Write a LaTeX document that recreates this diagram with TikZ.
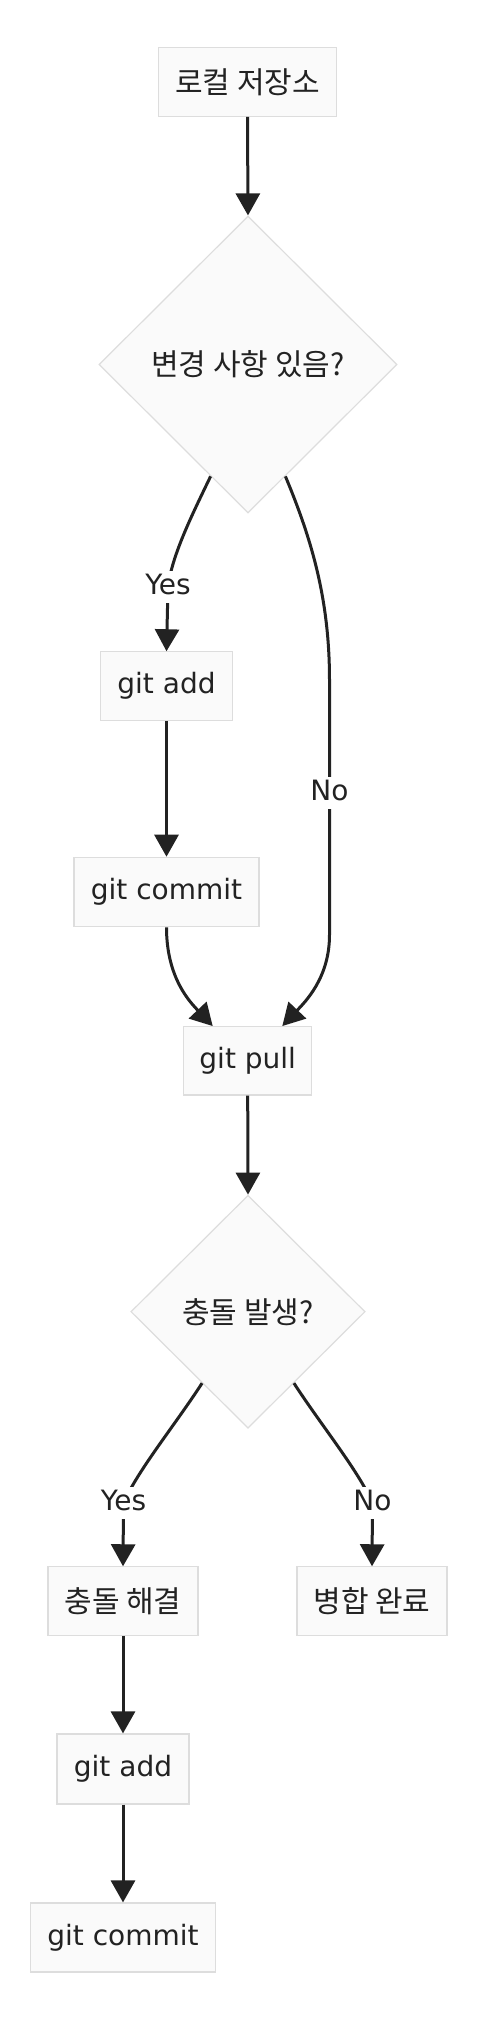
\documentclass[tikz,border=0pt]{standalone}
\usepackage{fontspec}
\setmainfont{DejaVu Sans}
\newfontfamily\kr{Noto Sans CJK KR}
\usetikzlibrary{shapes.geometric,arrows.meta,calc}
\definecolor{nodefill}{HTML}{FAFAFA}
\definecolor{nodeline}{HTML}{DDDDDD}
\definecolor{ink}{HTML}{222222}
\newcommand{\krt}{\kr\fontsize{30}{36}\selectfont}
\begin{document}
\begin{tikzpicture}[x=1pt,y=-1pt,
  box/.style={draw=nodeline, fill=nodefill, line width=1.2pt, inner sep=0pt, text=ink, font=\fontsize{28}{34}\selectfont},
  dec/.style={box, diamond},
  conn/.style={draw=ink, line width=3pt, -{Triangle[length=22pt,width=24pt]}},
  lbl/.style={fill=white, inner sep=3pt, text height=20pt, text depth=6pt, text=ink, font=\fontsize{28}{34}\selectfont}]
\useasboundingbox[fill=white] (0,0) rectangle (496,2030);

% nodes
\node[box, minimum width=177.6pt, minimum height=68.6pt] (local) at (247.5,82) {\krt 로컬 저장소};
\node[dec, minimum width=298pt, minimum height=297pt] (d1) at (248,364.5) {\krt 변경 사항 있음?};
\node[box, minimum width=131.6pt, minimum height=68.3pt] (ga1) at (166.5,686) {git add};
\node[box, minimum width=185pt, minimum height=69.4pt] (gc1) at (166.5,892) {git commit};
\node[box, minimum width=128pt, minimum height=68.3pt] (gp) at (247.7,1060.8) {git pull};
\node[dec, minimum width=234.3pt, minimum height=233pt] (d2) at (248,1311.7) {\krt 충돌 발생?};
\node[box, minimum width=150pt, minimum height=68.3pt] (cr) at (123,1601) {\krt 충돌 해결};
\node[box, minimum width=150pt, minimum height=68.3pt] (merge) at (372,1601) {\krt 병합 완료};
\node[box, minimum width=132pt, minimum height=70pt] (ga2) at (123,1769) {git add};
\node[box, minimum width=184.7pt, minimum height=69pt] (gc2) at (123,1937.5) {git commit};

% connectors
\draw[conn] (local.south) -- (d1.north);
\draw[conn] ($(d1.west)!0.75!(d1.south)$) .. controls (192,515) and (172,555) .. (168,587) node[lbl]{Yes} -- (ga1.north);
\draw[conn] ($(d1.east)!0.75!(d1.south)$) .. controls (312,540) and (329.5,600) .. (329.5,680) -- (329.5,793) node[lbl]{No} -- (329.5,935) .. controls (329.5,978) and (305,1002) .. ($(gp.north east)+(-30,0)$);
\draw[conn] (ga1.south) -- (gc1.north);
\draw[conn] (gc1.south) .. controls (166.5,978) and (190,1002) .. ($(gp.north west)+(29.6,0)$);
\draw[conn] (gp.south) -- (d2.north);
\draw[conn] ($(d2.west)!0.61!(d2.south)$) .. controls (175,1425) and (138,1470) .. (123.5,1503) node[lbl]{Yes} -- (cr.north);
\draw[conn] ($(d2.east)!0.61!(d2.south)$) .. controls (321,1425) and (358,1470) .. (372.5,1503) node[lbl]{No} -- (merge.north);
\draw[conn] (cr.south) -- (ga2.north);
\draw[conn] (ga2.south) -- (gc2.north);
\end{tikzpicture}
\end{document}
